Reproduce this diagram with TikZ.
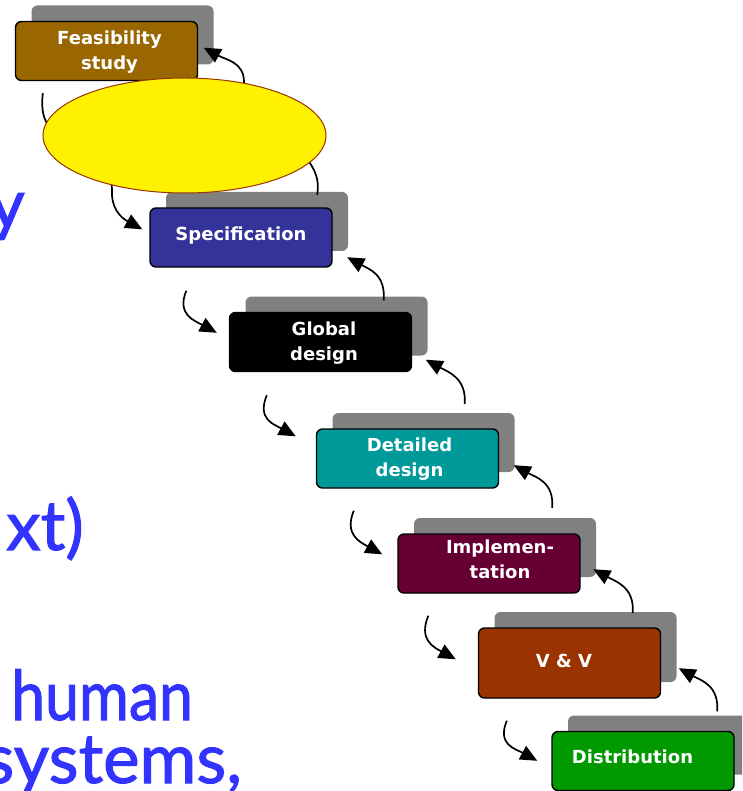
\documentclass[tikz,border=0pt]{standalone}
\usepackage{fontspec}
\usetikzlibrary{shapes.geometric,arrows.meta}
\newfontfamily\labelfont{DejaVu Sans}
\newfontfamily\notefont{Lato}[FakeBold=1.5]
\definecolor{shadowgray}{RGB}{128,128,128}
\definecolor{feascol}{RGB}{153,102,0}
\definecolor{speccol}{RGB}{51,51,153}
\definecolor{globcol}{RGB}{0,0,0}
\definecolor{detcol}{RGB}{0,153,153}
\definecolor{implcol}{RGB}{102,0,51}
\definecolor{vvcol}{RGB}{153,51,0}
\definecolor{distcol}{RGB}{0,153,0}
\definecolor{notecol}{RGB}{51,51,255}
\definecolor{ovalrim}{RGB}{153,51,0}
\begin{document}
\begin{tikzpicture}[x=1pt,y=-1pt,
  phase/.style={draw=black, line width=1.4pt, rounded corners=6pt,
    minimum width=182pt, minimum height=59pt, inner sep=0pt},
  backing/.style={fill=shadowgray, rounded corners=6pt,
    minimum width=182pt, minimum height=59pt, inner sep=0pt},
  phasetext/.style={text=white, font=\labelfont\bfseries\fontsize{18}{25}\selectfont,
    align=center, inner sep=0pt},
  flow/.style={line width=1.7pt, -{Triangle[length=17pt,width=15pt]}},
  note/.style={text=notecol, font=\notefont\fontsize{69}{80}\selectfont, inner sep=0pt}
]
\useasboundingbox (0,0) rectangle (742,791);
\fill[white] (0,0) rectangle (742,791);
\clip (0,0) rectangle (742,791);

% text running off the left edge
\node[note, anchor=base east] (noteY) at (25,228) {y};
\node[note, anchor=base east] (noteXt) at (84,550) {xt)};
\node[note, anchor=base west] (noteHuman) at (11,720) {\scalebox{0.88}[1]{human}};
\node[note, anchor=base east] (noteSys) at (242,783) {systems,};

% grey backing plates
\node[backing] (feasS) at (122.5,35) {};
\node[backing] (specS) at (257,221.5) {};
\node[backing] (globS) at (336.5,326) {};
\node[backing] (detS) at (423.5,442.5) {};
\node[backing] (implS) at (505,547.5) {};
\node[backing, minimum height=70pt] (vvS) at (585.5,647) {};
\node[backing] (distS) at (659,745) {};

% phase boxes
\node[phase, fill=feascol] (feas) at (106.5,51) {};
\node[phase, fill=speccol] (spec) at (241,237.5) {};
\node[phase, fill=globcol] (glob) at (320.5,342) {};
\node[phase, fill=detcol] (det) at (407.5,458.5) {};
\node[phase, fill=implcol] (impl) at (489,563.5) {};
\node[phase, fill=vvcol, minimum height=70pt] (vv) at (569.5,663) {};
\node[phase, fill=distcol] (dist) at (643,761) {};

% phase labels
\node[phasetext] (feasL) at (109.5,52.5) {Feasibility\\study};
\node[phasetext] (specL) at (241,235.5) {Specification};
\node[phasetext] (globL) at (324,343) {Global\\design};
\node[phasetext] (detL) at (409.5,459) {Detailed\\design};
\node[phasetext] (implL) at (500,559) {Implemen-\\tation};
\node[phasetext] (vvL) at (564,661) {V \& V};
\node[phasetext] (distL) at (632.5,757) {Distribution};

% forward arrows (down the cascade)
\draw[flow] ([shift={(28,12)}]feas.south west) .. controls +(-2,18) and +(-6,-8) .. (50,128)
  -- (105,170) .. controls +(6,8) and +(0,-7) .. (112,190)
  .. controls +(-1,18) and +(-22,-12) .. ([shift={(-7,22)}]spec.north west);
\draw[flow] ([shift={(37,23)}]spec.south west) .. controls +(-10,24) and +(-22,-12) .. ([shift={(-12,21)}]glob.north west);
\draw[flow] ([shift={(38,23)}]glob.south west) .. controls +(-10,24) and +(-22,-12) .. ([shift={(-20,8)}]det.north west);
\draw[flow] ([shift={(38,22)}]det.south west) .. controls +(-10,24) and +(-22,-12) .. ([shift={(-15,21)}]impl.north west);
\draw[flow] ([shift={(31,22)}]impl.south west) .. controls +(-10,24) and +(-22,-12) .. ([shift={(-22,32)}]vv.north west);
\draw[flow] ([shift={(29,22)}]vv.south west) .. controls +(-10,24) and +(-22,-12) .. ([shift={(-14,30)}]dist.north west);

% feedback arrows (back up the cascade)
\draw[flow] ([shift={(-31,3)}]specS.north east) .. controls +(3,-20) and +(12,15) .. (300,150)
  -- (250,100) .. controls +(-5,-8) and +(0,6) .. (244,82)
  .. controls +(0,-20) and +(22,12) .. ([shift={(-10,-17)}]feasS.south east);
\draw[flow] ([shift={(-44,4)}]globS.north east) .. controls +(2,-26) and +(22,12) .. ([shift={(-1,6)}]specS.south east);
\draw[flow] ([shift={(-50,-9)}]detS.north east) .. controls +(2,-26) and +(22,12) .. ([shift={(-2,4)}]globS.south east);
\draw[flow] ([shift={(-44,-10)}]implS.north east) .. controls +(2,-26) and +(22,12) .. ([shift={(-1,-7)}]detS.south east);
\draw[flow] ([shift={(-44,1)}]vvS.north east) .. controls +(2,-26) and +(22,12) .. ([shift={(-3,-8)}]implS.south east);
\draw[flow] ([shift={(-33,-4)}]distS.north east) .. controls +(2,-26) and +(22,12) .. ([shift={(2,-14)}]vvS.south east);

% yellow oval laid over the first step
\node[ellipse, fill=yellow, draw=ovalrim, line width=1pt, minimum width=283pt,
  minimum height=115pt, inner sep=0pt] (oval) at (184.5,135.5) {};
\end{tikzpicture}
\end{document}
